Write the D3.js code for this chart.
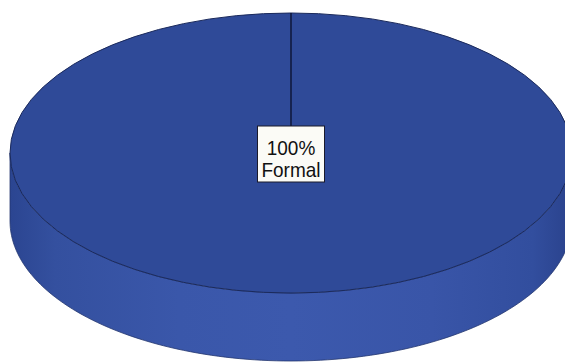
<!DOCTYPE html>
<html><head><meta charset="utf-8">
<script src="https://cdn.jsdelivr.net/npm/d3@7"></script>
<style>html,body{margin:0;padding:0;background:#fff;}svg{display:block;}</style>
</head><body>
<svg id="c" width="565" height="364"></svg>
<script>
const categories = ["Formal"];
const values = [100];
const pctLabels = ["100%"];

const W = 565, H = 364;
const cx = 291, cy = 153, rx = 281, ry = 140, depth = 68;
const svg = d3.select("#c");

const defs = svg.append("defs");
const g = defs.append("linearGradient").attr("id","side").attr("x1","0").attr("x2","1").attr("y1","0").attr("y2","0");
[[0,"#2b4591"],[0.08,"#34509f"],[0.3,"#3a57aa"],[0.5,"#3c59ad"],[0.75,"#3955a8"],[0.93,"#324e9e"],[1,"#2a428c"]]
  .forEach(([o,c])=>g.append("stop").attr("offset",o).attr("stop-color",c));

const pie = d3.pie().sort(null).value(d=>d)(values);
const colors = ["#2f4a98"];

// side wall (front half of the cylinder)
const ang = d3.scaleLinear().domain([0,1]).range([0, Math.PI]);
const N = 120;
const topPts = d3.range(N+1).map(i=>{const a=ang(i/N);return [cx+rx*Math.cos(a), cy+ry*Math.sin(a)];});
const botPts = d3.range(N+1).map(i=>{const a=ang(1-i/N);return [cx+rx*Math.cos(a), cy+depth+ry*Math.sin(a)];});
svg.append("path")
  .attr("d", d3.line()(topPts.concat(botPts)) + "Z")
  .attr("fill","url(#side)")
  .attr("stroke","#23366f").attr("stroke-width",0.8);

// top face via d3.arc scaled into an ellipse
const arc = d3.arc().innerRadius(0).outerRadius(1);
svg.append("g").attr("transform",`translate(${cx},${cy}) scale(${rx},${ry})`)
  .selectAll("path").data(pie).join("path")
  .attr("d", arc)
  .attr("fill",(d,i)=>colors[i])
  .attr("stroke","#1b2a5c").attr("stroke-width",1)
  .attr("vector-effect","non-scaling-stroke");

// radial line at slice start
pie.forEach(d=>{
  const a = d.startAngle;
  svg.append("line")
    .attr("x1",cx).attr("y1",cy)
    .attr("x2",cx+rx*Math.sin(a)).attr("y2",cy-ry*Math.cos(a))
    .attr("stroke","#0a0f2a").attr("stroke-width",1.3);
});

// label
const lab = svg.append("g").attr("transform",`translate(${cx},${cy})`);
lab.append("rect").attr("x",-33.5).attr("y",-27).attr("width",67).attr("height",56)
  .attr("fill","#fbfbf6").attr("stroke","#1a1a2a").attr("stroke-width",1);
const lines = [pctLabels[0], categories[0]];
lab.selectAll("text.l").data(lines).join("text").attr("class","l")
  .attr("text-anchor","middle")
  .attr("transform",(d,i)=>`translate(0,${2+i*22}) scale(1,1.1)`)
  .attr("font-family","'Liberation Sans', Arial, sans-serif").attr("font-size",19).attr("fill","#111")
  .text(d=>d);
</script>
</body></html>
